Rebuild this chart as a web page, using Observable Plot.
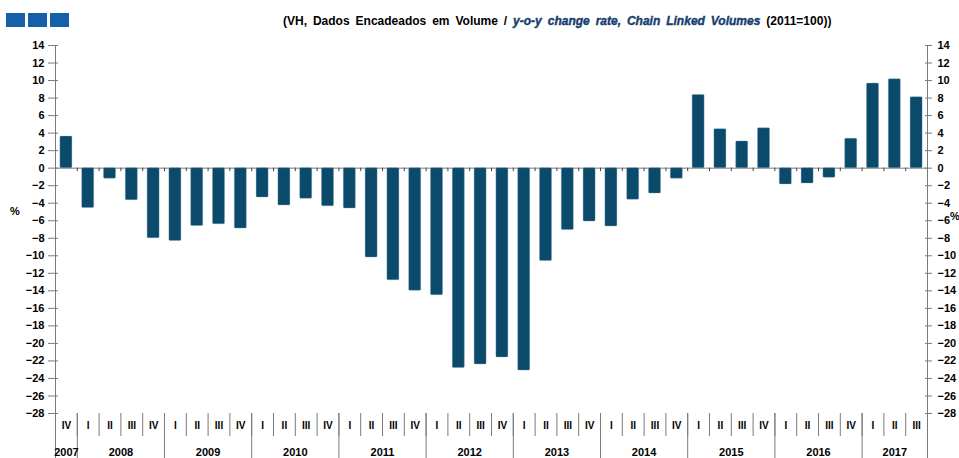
<!DOCTYPE html>
<html><head><meta charset="utf-8">
<script src="https://cdn.jsdelivr.net/npm/d3@7"></script>
<script src="https://cdn.jsdelivr.net/npm/@observablehq/plot@0.6"></script>
<style>
body{margin:0;background:#fff;font-family:"Liberation Sans",Arial,sans-serif;}
#wrap{position:relative;width:959px;height:458px;overflow:hidden;}
#chart{position:absolute;left:0;top:0;}
.sq{position:absolute;top:13px;width:19px;height:14px;background:#1560a8;}
#title{position:absolute;left:283px;top:14px;font-size:12px;font-weight:bold;white-space:nowrap;word-spacing:2.6px;color:#000;}
#title i{color:#17406e;font-weight:bold;font-style:italic;-webkit-text-stroke:0.4px #17406e;}
.pct{position:absolute;font-weight:bold;font-size:11px;color:#000;}
</style></head><body>
<div id="wrap">
  <div id="chart"></div>
  <div class="sq" style="left:6px"></div>
  <div class="sq" style="left:28px"></div>
  <div class="sq" style="left:50px"></div>
  <div id="title">(VH, Dados Encadeados em Volume / <i>y-o-y change rate, Chain Linked Volumes</i> (2011=100))</div>
  <div class="pct" style="left:10px;top:205px">%</div>
  <div class="pct" style="left:950px;top:210px">%</div>
</div>
<script>
const quarterLabels = ["IV",
  "I","II","III","IV", "I","II","III","IV", "I","II","III","IV",
  "I","II","III","IV", "I","II","III","IV", "I","II","III","IV",
  "I","II","III","IV", "I","II","III","IV", "I","II","III","IV",
  "I","II","III"];
const barYears = [2007,
  2008,2008,2008,2008, 2009,2009,2009,2009, 2010,2010,2010,2010,
  2011,2011,2011,2011, 2012,2012,2012,2012, 2013,2013,2013,2013,
  2014,2014,2014,2014, 2015,2015,2015,2015, 2016,2016,2016,2016,
  2017,2017,2017];
const values = [3.6,
  -4.55,-1.2,-3.65,-8.0, -8.3,-6.6,-6.4,-6.9, -3.35,-4.25,-3.5,-4.35,
  -4.6,-10.2,-12.8,-14.0, -14.5,-22.8,-22.4,-21.6, -23.1,-10.6,-7.05,-6.1,
  -6.65,-3.6,-2.9,-1.2, 8.35,4.45,3.05,4.55, -1.85,-1.75,-1.1,3.35,
  9.65,10.15,8.1];
const yTicks = [14,12,10,8,6,4,2,0,-2,-4,-6,-8,-10,-12,-14,-16,-18,-20,-22,-24,-26,-28];

const data = values.map((v, i) => ({key: barYears[i] + "-" + quarterLabels[i], q: quarterLabels[i], year: barYears[i], value: v}));
const cats = data.map(d => d.key);
const qOf = new Map(data.map(d => [d.key, d.q]));
const yOf = new Map(data.map(d => [d.key, String(d.year)]));

const W = 959, H = 458, ML = 55, MR = 32, MT = 45, MB = 45;
const step = (W - ML - MR) / cats.length, half = step / 2;

// year groups
const groups = d3.groups(data, d => d.year);
const yearStarts = groups.map(([, g]) => g[0].key);
const evenAnchors = groups.filter(([, g]) => g.length % 2 === 0).map(([, g]) => g[g.length / 2 - 1].key);
const oddAnchors = groups.filter(([, g]) => g.length % 2 === 1).map(([, g]) => g[(g.length - 1) / 2].key);

const gray = "#7a7a7a";
const font = {fontWeight: "bold", fontSize: 11};

const chart = Plot.plot({
  width: W, height: H,
  marginLeft: ML, marginRight: MR, marginTop: MT, marginBottom: MB,
  style: {fontFamily: "'Liberation Sans', Arial, sans-serif", fontSize: "11px", background: "#fff", color: "#000"},
  x: {type: "band", domain: cats, paddingInner: 0.45, paddingOuter: 0.225},
  y: {domain: [-28, 14]},
  marks: [
    Plot.ruleY([0], {stroke: gray}),
    Plot.ruleX(cats.slice(1), {y1: 0, y2: -0.4, dx: -half, stroke: "#444"}),
    Plot.barY(data, {x: "key", y: "value", fill: "#0c4a6b", stroke: "#6f9cb8", strokeWidth: 0.5, strokeOpacity: 0.7, rx: 1}),
    Plot.ruleX([cats[0]], {dx: -half, stroke: gray}),
    Plot.ruleX([cats[cats.length - 1]], {dx: half, stroke: gray}),
    // left y axis
    Plot.axisY(yTicks, {anchor: "left", tickSize: 10, dx: 3, fill: "none", stroke: gray, label: null}),
    Plot.axisY(yTicks, {anchor: "left", tickSize: 0, tickPadding: 11, label: null, ...font}),
    // right y axis
    Plot.axisY(yTicks, {anchor: "right", tickSize: 7, dx: -3, fill: "none", stroke: gray, label: null}),
    Plot.axisY(yTicks, {anchor: "right", tickSize: 0, tickPadding: 10, label: null, ...font}),
    // quarter labels and separators
    Plot.axisX(cats, {anchor: "bottom", tickSize: 0, tickPadding: 8, tickFormat: k => qOf.get(k), label: null, fontWeight: "bold", fontSize: 10}),
    Plot.axisX(cats, {anchor: "bottom", tickSize: 23, dx: -half, fill: "none", stroke: gray, label: null}),
    Plot.axisX(yearStarts, {anchor: "bottom", tickSize: 45, dx: -half, fill: "none", stroke: gray, label: null}),
    Plot.axisX([cats[cats.length - 1]], {anchor: "bottom", tickSize: 45, dx: half, fill: "none", stroke: gray, label: null}),
    // year labels
    Plot.axisX(evenAnchors, {anchor: "bottom", tickSize: 0, tickPadding: 35, dx: half, tickFormat: k => yOf.get(k), label: null, ...font}),
    Plot.axisX(oddAnchors, {anchor: "bottom", tickSize: 0, tickPadding: 35, tickFormat: k => yOf.get(k), label: null, ...font})
  ]
});
document.getElementById("chart").appendChild(chart);
</script>
</body></html>
